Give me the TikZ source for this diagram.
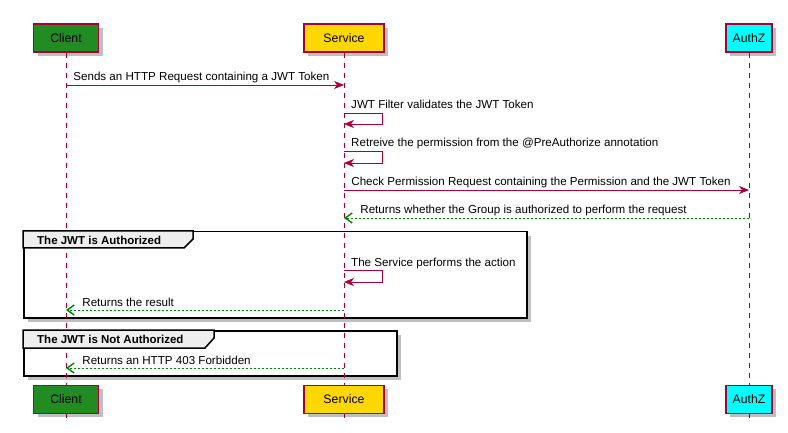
\documentclass[tikz,border=0pt]{standalone}
\usepackage{fontspec}
\setmainfont{Liberation Sans}
\usetikzlibrary{arrows.meta, shadows,
positioning }
\definecolor{umlred}{HTML}{A80036}
\definecolor{umlgreen}{HTML}{008000}
\definecolor{clientgreen}{HTML}{228B22}
\definecolor{servicegold}{HTML}{FFD700}
\definecolor{authzcyan}{HTML}{00FFFF}
\definecolor{tabgray}{HTML}{EEEEEE}
\tikzset{%
>={Stealth[width=8pt,length=10pt,inset=3pt]},
  % Specifications for style of nodes:
            actor/.style = {rectangle, draw=umlred, line width=1.2pt,
                            minimum height=28pt, inner sep=0pt,
                            font=\fontsize{12.3}{14}\selectfont,
                            drop shadow={shadow xshift=4pt, shadow yshift=-4pt,
                            opacity=0.25, fill=black}},
            msg/.style = {anchor=base west, inner sep=0pt,
                            font=\fontsize{11.6}{13}\selectfont},
            groupbox/.style = {rectangle, draw=black, line width=1.5pt,
                            fill=white, anchor=north west, inner sep=0pt,
                            drop shadow={shadow xshift=4pt, shadow yshift=-4pt,
                            opacity=0.25, fill=black}},
            grouptab/.style = {draw=black, line width=1.5pt, fill=tabgray},
            tablabel/.style = {anchor=west, inner sep=0pt,
                            font=\bfseries\fontsize{11.5}{13}\selectfont},
  % Specifications for style of lines:
            lifeline/.style = {draw=umlred, line width=0.8pt,
                            dash pattern=on 5pt off 5pt},
            call/.style = {->, draw=umlred, line width=0.8pt},
            reply/.style = {-{Straight Barb[length=7pt,width=10pt,line width=1.4pt]},
                            draw=umlgreen, line width=0.8pt,
                            dash pattern=on 2pt off 2pt}
}

\begin{document}
\begin{tikzpicture}[x=1pt, y=-1pt]
                        \useasboundingbox (0,0) rectangle (788,433);
                        % participants
                        \node[actor, fill=clientgreen, minimum width=65pt] (client) at (66,38) {Client};
                        \node[actor, fill=servicegold, minimum width=80pt] (service) at (344,38) {Service};
                        \node[actor, fill=authzcyan, minimum width=46pt] (authz) at (749,38) {AuthZ};
                        % groups
                        \node[groupbox, minimum width=503pt, minimum height=86pt] (authorized) at (23,231) {};
                        \node[groupbox, minimum width=373pt, minimum height=45pt] (notauthorized) at (23,330) {};
                        % lifelines
                        \coordinate (clientend) at (66,418);
                        \coordinate (serviceend) at (344,418);
                        \coordinate (authzend) at (749,418);
                        \draw[lifeline] (client) -- (clientend);
                        \draw[lifeline] (service) -- (serviceend);
                        \draw[lifeline] (authz) -- (authzend);
                        % group tabs
                        \draw[grouptab] (authorized.north west) -- ++(170,0) -- ++(0,8) -- ++(-9,9) -- ++(-161,0) -- cycle;
                        \node[tablabel] (authlabel) at (37,240) {The JWT is Authorized};
                        \draw[grouptab] (notauthorized.north west) -- ++(191,0) -- ++(0,8) -- ++(-9,10) -- ++(-182,0) -- cycle;
                        \node[tablabel] (notauthlabel) at (37,339) {The JWT is Not Authorized};
                        % messages
                        \coordinate (m1) at (0,85);
                        \coordinate (m2) at (0,113);
                        \coordinate (m3) at (0,151);
                        \coordinate (m4) at (0,190);
                        \coordinate (m5) at (0,218);
                        \coordinate (m6) at (0,270);
                        \coordinate (m7) at (0,310);
                        \coordinate (m8) at (0,368);
                        \draw[call] (client |- m1) -- (service |- m1)
                            node[msg, at start, xshift=7pt, yshift=4pt] {Sends an HTTP Request containing a JWT Token};
                        \draw[call] (service |- m2) -- ++(38,0) -- ++(0,11) -- ++(-38,0);
                        \node[msg] (filtertext) at ([xshift=7pt, yshift=4pt]service |- m2) {JWT Filter validates the JWT Token};
                        \draw[call] (service |- m3) -- ++(38,0) -- ++(0,12) -- ++(-38,0);
                        \node[msg] (permtext) at ([xshift=7pt, yshift=4pt]service |- m3) {Retreive the permission from the @PreAuthorize annotation};
                        \draw[call] (service |- m4) -- (authz |- m4)
                            node[msg, at start, xshift=7pt, yshift=4pt] {Check Permission Request containing the Permission and the JWT Token};
                        \draw[reply] (authz |- m5) -- (service |- m5)
                            node[msg, at end, xshift=16pt, yshift=4pt] {Returns whether the Group is authorized to perform the request};
                        \draw[call] (service |- m6) -- ++(38,0) -- ++(0,12) -- ++(-38,0);
                        \node[msg] (actiontext) at ([xshift=7pt, yshift=4pt]service |- m6) {The Service performs the action};
                        \draw[reply] (service |- m7) -- (client |- m7)
                            node[msg, at end, xshift=16pt, yshift=4pt] {Returns the result};
                        \draw[reply] (service |- m8) -- (client |- m8)
                            node[msg, at end, xshift=16pt, yshift=4pt] {Returns an HTTP 403 Forbidden};
                        % participants again at the bottom
                        \node[actor, fill=clientgreen, minimum width=65pt, below=332pt of client] (clientbottom) {Client};
                        \node[actor, fill=servicegold, minimum width=80pt, below=332pt of service] (servicebottom) {Service};
                        \node[actor, fill=authzcyan, minimum width=46pt, below=332pt of authz] (authzbottom) {AuthZ};
                    \end{tikzpicture}
\end{document}
